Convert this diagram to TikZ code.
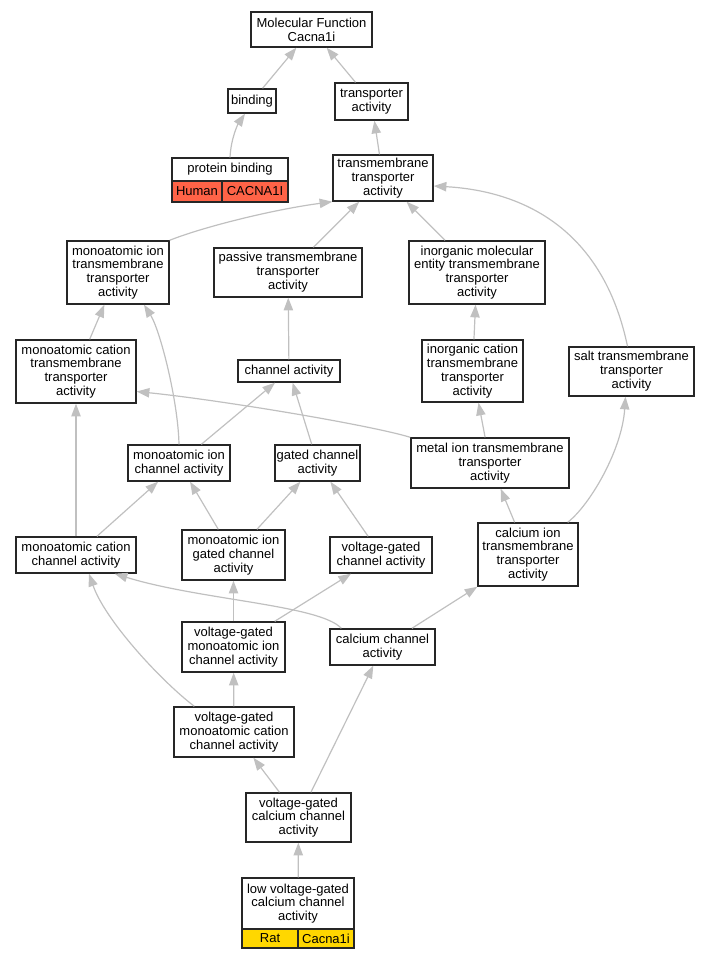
\documentclass[tikz,border=0pt]{standalone}
\usepackage{fontspec}
\setmainfont{Liberation Sans}
\usetikzlibrary{arrows.meta,calc}
\definecolor{edgegray}{RGB}{192,192,192}
\definecolor{human}{RGB}{255,99,71}
\definecolor{rat}{RGB}{255,215,0}
\begin{document}
\begin{tikzpicture}[x=0.75pt,y=-0.75pt,
 box/.style 2 args={draw=black!85, line width=1.05pt, fill=white, inner sep=0pt, align=center, minimum width={#1*0.75pt}, minimum height={#2*0.75pt}, font=\fontsize{9.75}{10.4}\selectfont},
 edge/.style={draw=edgegray, line width=0.9pt, -{Triangle[length=9.5pt,width=7pt]}}]
\useasboundingbox (0,0) rectangle (711,960);
\node[box={121}{35}] (mf) at (311.5,29.5) {Molecular Function\\Cacna1i};
\node[box={48}{24}] (bind) at (252,101) {binding};
\node[box={73}{37}] (tra) at (371.5,101.5) {transporter\\activity};
\node[box={116}{23}] (pb) at (230,169.5) {protein binding};
\node[box={50}{21},fill=human] (pbh) at (197,191.5) {Human};
\node[box={66}{21},fill=human] (pbc) at (255,191.5) {CACNA1I};
\node[box={100}{46}] (tmta) at (383,178) {transmembrane\\transporter\\activity};
\node[box={102}{63}] (mita) at (118,272.5) {monoatomic ion\\transmembrane\\transporter\\activity};
\node[box={148}{49}] (ptta) at (288,272.5) {passive transmembrane\\transporter\\activity};
\node[box={136}{63}] (imeta) at (477,272.5) {inorganic molecular\\entity transmembrane\\transporter\\activity};
\node[box={120}{63}] (mcta) at (76,371.5) {monoatomic cation\\transmembrane\\transporter\\activity};
\node[box={102}{22}] (cha) at (289,371) {channel activity};
\node[box={101}{62}] (icta) at (472.5,371) {inorganic cation\\transmembrane\\transporter\\activity};
\node[box={125}{49}] (stta) at (631.5,371.5) {salt transmembrane\\transporter\\activity};
\node[box={102}{36}] (mic) at (179,463) {monoatomic ion\\channel activity};
\node[box={85}{36}] (gca) at (317.5,463) {gated channel\\activity};
\node[box={158}{50}] (mitta) at (490,463) {metal ion transmembrane\\transporter\\activity};
\node[box={120}{36}] (mcc) at (76,555) {monoatomic cation\\channel activity};
\node[box={103}{50}] (migc) at (233.5,555) {monoatomic ion\\gated channel\\activity};
\node[box={102}{36}] (vgc) at (381,555) {voltage-gated\\channel activity};
\node[box={100}{63}] (cita) at (528,554.5) {calcium ion\\transmembrane\\transporter\\activity};
\node[box={103}{50}] (vgmic) at (233.5,647) {voltage-gated\\monoatomic ion\\channel activity};
\node[box={105}{36}] (cca) at (382.5,647) {calcium channel\\activity};
\node[box={120}{50}] (vgmcc) at (234,732) {voltage-gated\\monoatomic cation\\channel activity};
\node[box={105}{49}] (vgcc) at (298.5,817.5) {voltage-gated\\calcium channel\\activity};
\node[box={112}{51}] (lvg) at (298,903.5) {low voltage-gated\\calcium channel\\activity};
\node[box={56}{19},fill=rat] (lvgr) at (270,938.5) {Rat};
\node[box={56}{19},fill=rat] (lvgc) at (326,938.5) {Cacna1i};
\draw[edge] (bind) -- (mf);
\draw[edge] (tra) -- (mf);
\draw[edge] (pb.north) .. controls (231,138) and (238,124) .. ($(bind.south)+(-7,0)$);
\draw[edge] (tmta) -- (tra);
\draw[edge] (mita.north east) .. controls (200,228) and (270,210) .. (tmta.south west);
\draw[edge] (ptta) -- (tmta);
\draw[edge] (imeta) -- (tmta);
\draw[edge] ($(stta.north)+(-4,0)$) .. controls (600,215) and (505,190) .. ($(tmta.east)+(0,8)$);
\draw[edge] (icta) -- (imeta);
\draw[edge] (mcta) -- (mita);
\draw[edge] (cha) -- (ptta);
\draw[edge] (mic.north) .. controls (178,400) and (160,330) .. ($(mita.south)+(26,0)$);
\draw[edge] (mic) -- (cha);
\draw[edge] (gca) -- (cha);
\draw[edge] (mitta) -- (icta);
\draw[edge] (mitta.north west) .. controls (370,425) and (220,400) .. ($(mcta.east)+(0,20)$);
\draw[edge] ($(cita.north east)+(-11,0)$) .. controls (590,505) and (622,450) .. ($(stta.south)+(-6,0)$);
\draw[edge] (mcc) -- (mcta);
\draw[edge] (mcc) -- (mic);
\draw[edge] (migc) -- (mic);
\draw[edge] (migc) -- (gca);
\draw[edge] (vgc) -- (gca);
\draw[edge] (cita) -- (mitta);
\draw[edge] (vgmic) -- (migc);
\draw[edge] (vgmic) -- (vgc);
\draw[edge] ($(cca.north west)+(12,0)$) .. controls (320,605) and (200,600) .. ($(mcc.south east)+(-22,0)$);
\draw[edge] (cca) -- (cita);
\draw[edge] ($(vgmcc.north west)+(21,0)$) .. controls (160,680) and (105,620) .. ($(mcc.south)+(13,0)$);
\draw[edge] (vgmcc) -- (vgmic);
\draw[edge] (vgcc) -- (vgmcc);
\draw[edge] (vgcc) -- (cca);
\draw[edge] (lvg) -- (vgcc);
\end{tikzpicture}
\end{document}
